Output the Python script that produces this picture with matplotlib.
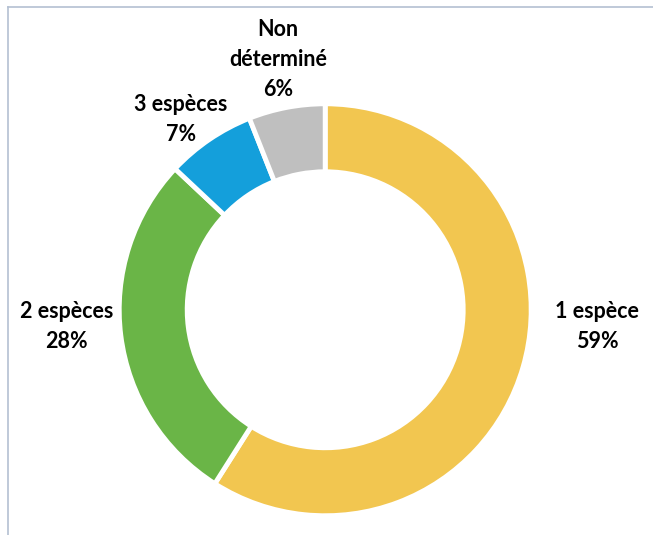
import matplotlib
matplotlib.use("Agg")
import matplotlib.pyplot as plt
from matplotlib.lines import Line2D

categories = ["1 espèce", "2 espèces", "3 espèces", "Non\ndéterminé"]
values = [59, 28, 7, 6]
colors = ["#F2C650", "#6AB547", "#149FDB", "#BFBFBF"]
label_pos = [(1.32, -0.08), (-1.255, -0.08), (-0.70, 0.925), (-0.228, 1.215)]

fig = plt.figure(figsize=(6.53, 5.35), dpi=100)
ax = fig.add_axes([0.1825, 0.036, 0.631, 0.770])
ax.pie(values, colors=colors, startangle=90, counterclock=False,
       wedgeprops=dict(width=0.33, edgecolor="white", linewidth=3.5))
ax.set_xlim(-1, 1)
ax.set_ylim(-1, 1)
ax.set_aspect("equal")
for cat, v, (x, y) in zip(categories, values, label_pos):
    ax.text(x, y, f"{cat}\n{v}%", ha="center", va="center", fontsize=15.5,
            fontweight="bold", family="Lato", linespacing=1.55, clip_on=False)

border = "#B4C0D2"
fig.add_artist(Line2D([0.0115, 0.0115], [0, 0.987], transform=fig.transFigure, color=border, lw=1.2))
fig.add_artist(Line2D([0.0115, 1.0], [0.987, 0.987], transform=fig.transFigure, color=border, lw=1.2))
fig.savefig("out.png", dpi=100)
